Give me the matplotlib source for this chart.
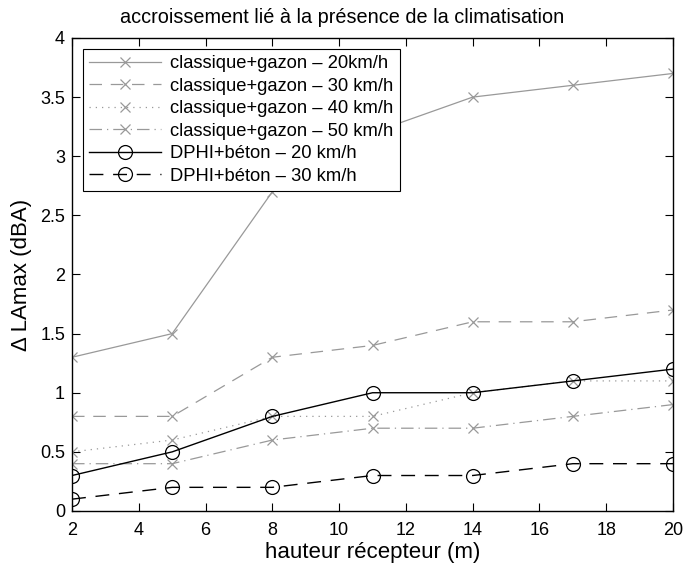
import matplotlib
matplotlib.use("Agg")
import matplotlib.pyplot as plt

plt.rcParams['font.family'] = ['Liberation Sans', 'DejaVu Sans']

hauteur = [2, 5, 8, 11, 14, 17, 20]
cg20 = [1.3, 1.5, 2.7, 3.2, 3.5, 3.6, 3.7]
cg30 = [0.8, 0.8, 1.3, 1.4, 1.6, 1.6, 1.7]
cg40 = [0.5, 0.6, 0.8, 0.8, 1.0, 1.1, 1.1]
cg50 = [0.4, 0.4, 0.6, 0.7, 0.7, 0.8, 0.9]
db20 = [0.3, 0.5, 0.8, 1.0, 1.0, 1.1, 1.2]
db30 = [0.1, 0.2, 0.2, 0.3, 0.3, 0.4, 0.4]

labels = ["classique+gazon \u2013 20km/h",
          "classique+gazon \u2013 30 km/h",
          "classique+gazon \u2013 40 km/h",
          "classique+gazon \u2013 50 km/h",
          "DPHI+béton \u2013 20 km/h",
          "DPHI+béton \u2013 30 km/h"]
xticks = [2, 4, 6, 8, 10, 12, 14, 16, 18, 20]
yticks = [0, 0.5, 1, 1.5, 2, 2.5, 3, 3.5, 4]
ytick_labels = ["0", "0.5", "1", "1.5", "2", "2.5", "3", "3.5", "4"]

fig = plt.figure(figsize=(6.84, 5.71), dpi=100)
ax = fig.add_axes([0.1053, 0.1051, 0.8787, 0.8284])

gray = '#999999'
dash = (0, (10, 7))
ax.plot(hauteur, cg20, color=gray, ls='-', lw=0.9, marker='x', ms=7.5, mew=0.9, label=labels[0])
ax.plot(hauteur, cg30, color=gray, ls=dash, lw=0.9, marker='x', ms=7.5, mew=0.9, label=labels[1])
ax.plot(hauteur, cg40, color=gray, ls=(0, (1, 4)), lw=0.9, marker='x', ms=7.5, mew=0.9, label=labels[2])
ax.plot(hauteur, cg50, color=gray, ls=(0, (10, 4, 1, 4)), lw=0.9, marker='x', ms=7.5, mew=0.9, label=labels[3])
ax.plot(hauteur, db20, color='black', ls='-', lw=1.0, marker='o', ms=10, mfc='none', mew=0.9, label=labels[4])
ax.plot(hauteur, db30, color='black', ls=dash, lw=1.0, marker='o', ms=10, mfc='none', mew=0.9, label=labels[5])

ax.set_xlim(2, 20)
ax.set_ylim(0, 4)
ax.set_xticks(xticks)
ax.set_yticks(yticks)
ax.set_yticklabels(ytick_labels)
ax.tick_params(direction='in', top=True, right=True, labelsize=13, length=6, width=0.8)
ax.tick_params(axis='x', pad=8)
ax.tick_params(axis='y', pad=5)
for s in ax.spines.values():
    s.set_linewidth(1.0)

ax.set_xlabel("hauteur récepteur (m)", fontsize=16, labelpad=2)
ax.set_ylabel("\u0394 LAmax (dBA)", fontsize=16, labelpad=6)
fig.text(0.5, 0.970, "accroissement lié à la présence de la climatisation",
         fontsize=14.3, ha='center', va='center')

leg = ax.legend(loc='upper left', fontsize=13.2, frameon=True, fancybox=False,
                edgecolor='black', framealpha=1, handlelength=3.9, borderpad=0.35,
                labelspacing=0.3, handletextpad=0.5, borderaxespad=0.6)
leg.get_frame().set_linewidth(0.8)

fig.savefig("out.png", dpi=100)
